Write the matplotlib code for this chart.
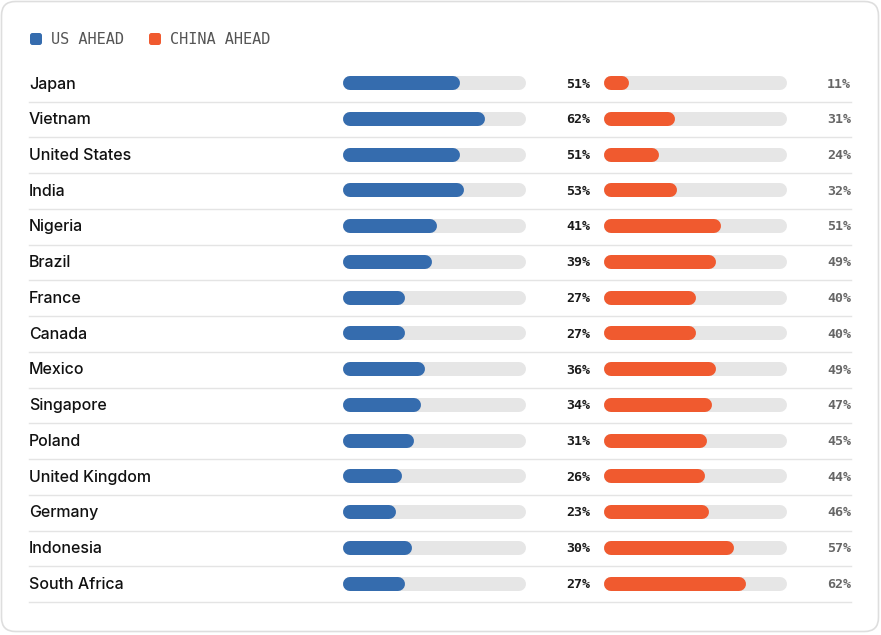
import matplotlib
matplotlib.use("Agg")
import matplotlib.pyplot as plt
from matplotlib.patches import FancyBboxPatch

countries = ["Japan", "Vietnam", "United States", "India", "Nigeria", "Brazil",
             "France", "Canada", "Mexico", "Singapore", "Poland",
             "United Kingdom", "Germany", "Indonesia", "South Africa"]
us_ahead = [51, 62, 51, 53, 41, 39, 27, 27, 36, 34, 31, 26, 23, 30, 27]
china_ahead = [11, 31, 24, 32, 51, 49, 40, 40, 49, 47, 45, 44, 46, 57, 62]
scale_max = 80

BLUE = "#356cae"
ORANGE = "#f05a2f"
TRACK = "#e6e6e6"
GRID = "#e4e4e4"

W, H = 881, 635
fig = plt.figure(figsize=(W / 100, H / 100), dpi=100)
ax = fig.add_axes([0, 0, 1, 1])
ax.set_xlim(0, W)
ax.set_ylim(H, 0)
ax.axis("off")

# card
ax.add_patch(FancyBboxPatch((1.5, 1.5), W - 4, H - 5,
                            boxstyle="round,pad=0,rounding_size=14",
                            fc="white", ec="#dedede", lw=1.2))

# legend
for x0, col, lab in [(30, BLUE, "US AHEAD"), (149, ORANGE, "CHINA AHEAD")]:
    ax.add_patch(FancyBboxPatch((x0, 33), 12, 12,
                                boxstyle="round,pad=0,rounding_size=2.5",
                                fc=col, ec="none"))
    ax.text(x0 + 21, 40, lab, fontsize=11, family="DejaVu Sans Mono",
            color="#555555", va="center", ha="left")

lw_pt = 14 * 72 / 100  # bar thickness in points (14 px)


def draw_bar(left, width, y, value, color):
    r = 7
    # background track
    ax.plot([left + r, left + width - r], [y, y], color=TRACK, lw=lw_pt,
            solid_capstyle="round")
    end = left + width * value / scale_max
    ax.plot([left + r, max(end - r, left + r)], [y, y], color=color, lw=lw_pt,
            solid_capstyle="round")


row0 = 83
step = 35.75
for i, name in enumerate(countries):
    y = row0 + i * step
    ax.text(29, y + 5.5, name, fontsize=11.5, family="Inter", fontweight="medium",
            color="#111111", va="baseline", ha="left")
    draw_bar(343, 183, y, us_ahead[i], BLUE)
    ax.text(590, y + 1, f"{us_ahead[i]}%", fontsize=9.5, family="DejaVu Sans Mono",
            fontweight="bold", color="#1a1a1a", va="center", ha="right")
    draw_bar(604, 183, y, china_ahead[i], ORANGE)
    ax.text(851, y + 1, f"{china_ahead[i]}%", fontsize=9.5,
            family="DejaVu Sans Mono", fontweight="bold", color="#666666",
            va="center", ha="right")
    ax.plot([29, 851], [y + 18.5, y + 18.5], color=GRID, lw=1)

fig.savefig("out.png", dpi=100)
